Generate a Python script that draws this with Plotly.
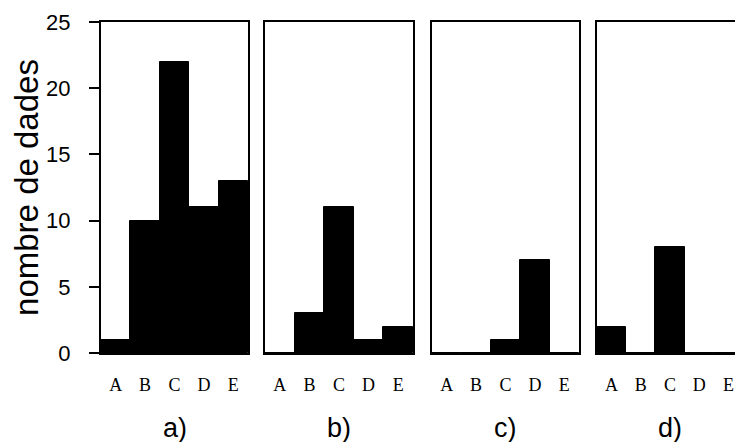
import plotly.graph_objects as go

categories = ["A", "B", "C", "D", "E"]
panel_a = [1, 10, 22, 11, 13]
panel_b = [0, 3, 11, 1, 2]
panel_c = [0, 0, 1, 7, 0]
panel_d = [2, 0, 8, 0, 0]
panel_labels = ["a)", "b)", "c)", "d)"]
y_ticks = [0, 5, 10, 15, 20, 25]

series = [panel_a, panel_b, panel_c, panel_d]
domains = [(0.0, 0.229), (0.2555, 0.486), (0.5156, 0.7445), (0.7726, 1.0)]

fig = go.Figure()
for i, vals in enumerate(series):
    n = "" if i == 0 else str(i + 1)
    fig.add_trace(go.Bar(x=categories, y=vals, xaxis="x" + n, yaxis="y" + n,
                         marker=dict(color="black", line=dict(color="black", width=1)),
                         showlegend=False))
    xa = dict(domain=list(domains[i]), anchor="y" + n, type="category",
              range=[-0.5, 4.5], showline=True, mirror=True, linecolor="black",
              linewidth=2, showgrid=False, zeroline=False, ticks="",
              automargin=False, ticklabelstandoff=14,
              tickfont=dict(family="Liberation Serif", size=18, color="black"))
    ya = dict(anchor="x" + n, range=[0, 25], showline=True, mirror=True,
              linecolor="black", linewidth=2, showgrid=False, zeroline=False,
              automargin=False)
    if i == 0:
        ya.update(ticks="outside", ticklen=10, tickwidth=1.5, tickcolor="black",
                  tickvals=y_ticks, ticklabelstandoff=14,
                  tickfont=dict(family="Liberation Sans", size=22, color="black"),
                  title=dict(text="nombre de dades", standoff=6,
                             font=dict(family="Liberation Sans", size=33, color="black")))
    else:
        ya.update(showticklabels=False, ticks="")
    fig.update_layout({"xaxis" + n: xa, "yaxis" + n: ya})
    fig.add_annotation(text=panel_labels[i], xref="x" + n + " domain", yref="paper",
                       x=0.5, y=-0.227, showarrow=False, yanchor="middle",
                       font=dict(family="Liberation Sans", size=27, color="black"))

fig.update_layout(width=735, height=434, bargap=0,
                  margin=dict(l=93, r=0, t=14, b=89),
                  paper_bgcolor="white", plot_bgcolor="white")
fig.write_html("out.html")
